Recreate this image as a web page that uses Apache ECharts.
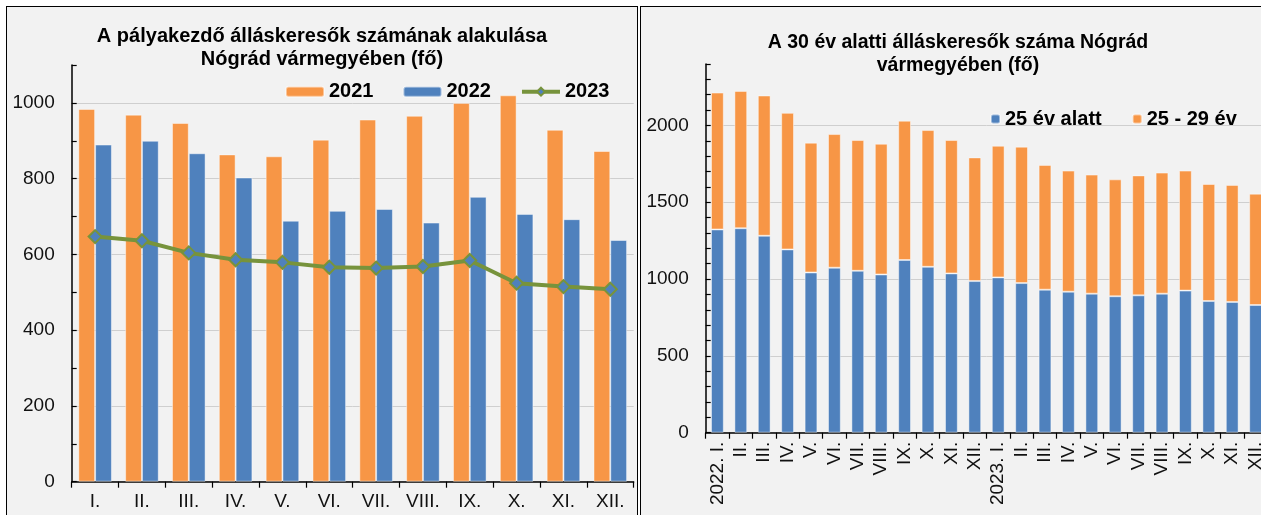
<!DOCTYPE html>
<html>
<head>
<meta charset="utf-8">
<title>Pályakezdő álláskeresők - Nógrád</title>
<script src="https://cdn.jsdelivr.net/npm/echarts@6/dist/echarts.min.js"></script>
<style>
html, body { margin: 0; padding: 0; background: #fff; overflow: hidden; width: 1261px; height: 515px; }
.panel { position: absolute; top: 6px; height: 530px; border: 1px solid #000; background: #f2f2f2; box-sizing: border-box; }
#p1 { left: 6px; width: 632px; }
#p2 { left: 640px; width: 636px; }
.chart { position: absolute; left: 0; top: 0; right: 0; bottom: 0; }
</style>
</head>
<body>
<div class="panel" id="p1"><div class="chart" id="chart1"></div></div>
<div class="panel" id="p2"><div class="chart" id="chart2"></div></div>
<script>
/* bal oldali diagram: pályakezdők havonta */
var honapok = ['I.', 'II.', 'III.', 'IV.', 'V.', 'VI.', 'VII.', 'VIII.', 'IX.', 'X.', 'XI.', 'XII.'];
var ev2021 = [984, 969, 947, 864, 859, 903, 956, 966, 1000, 1020, 929, 873];
var ev2022 = [890, 900, 867, 803, 689, 715, 720, 684, 752, 707, 693, 638];
var ev2023 = [647, 636, 604, 586, 579, 566, 564, 568, 584, 524, 515, 508];

/* jobb oldali diagram: 30 év alattiak */
var idoszakok = ['2022. I.', 'II.', 'III.', 'IV.', 'V.', 'VI.', 'VII.', 'VIII.', 'IX.', 'X.', 'XI.', 'XII.',
                 '2023. I.', 'II.', 'III.', 'IV.', 'V.', 'VI.', 'VII.', 'VIII.', 'IX.', 'X.', 'XI.', 'XII.'];
var alatt25 = [1323, 1331, 1282, 1193, 1043, 1074, 1054, 1030, 1124, 1080, 1037, 987,
               1011, 974, 931, 918, 905, 888, 894, 905, 925, 857, 851, 831];
var kozott25_29 = [891, 894, 913, 889, 845, 870, 851, 851, 907, 890, 868, 805,
                   857, 888, 812, 788, 775, 761, 781, 788, 781, 762, 762, 725];

var NARANCS = '#f79646';
var KEK = '#4f81bd';
var ZOLD = '#77933c';
var BETU = "'Liberation Sans', Arial, sans-serif";

var chart1 = echarts.init(document.getElementById('chart1'));
var chart2 = echarts.init(document.getElementById('chart2'));

/**
 * közös érték tengely beállítás
 */
function ertekTengely(max, cimkeLepes){
	var vonalSzinek = [];
	for (var i = 0; i < cimkeLepes / 100; i++) {
		vonalSzinek.push(i === 0 ? '#cfcfcf' : 'rgba(0,0,0,0)');
	}
	return {
		type: 'value',
		min: 0,
		max: max,
		interval: 100,
		axisLine: { show: true, lineStyle: { color: '#000', width: 1.5 } },
		axisTick: { show: true, inside: true, length: 5, lineStyle: { color: '#000', width: 1.2 } },
		axisLabel: {
			margin: 17,
			fontFamily: BETU,
			fontSize: 19,
			color: '#111',
			formatter: function (v) { return v % cimkeLepes === 0 ? String(v) : ''; }
		},
		splitLine: { show: true, lineStyle: { color: vonalSzinek, width: 1 } }
	};
}

function drawChart1(){
	var option = {
		animation: false,
		title: {
			text: 'A pályakezdő álláskeresők számának alakulása\nNógrád vármegyében (fő)',
			left: 'center',
			top: 18,
			padding: 0,
			textStyle: { fontFamily: BETU, fontSize: 20, fontWeight: 'bold', color: '#000', lineHeight: 23 }
		},
		legend: {
			left: 278,
			top: 73.7,
			padding: 0,
			itemGap: 29,
			itemWidth: 38,
			itemHeight: 10,
			textStyle: { fontFamily: BETU, fontSize: 20, fontWeight: 'bold', color: '#000', lineHeight: 22 },
			data: [
				'2021',
				'2022',
				{ name: '2023', lineStyle: { width: 4, color: ZOLD }, itemStyle: { color: KEK, borderColor: ZOLD, borderWidth: 2 } }
			]
		},
		grid: { left: 64.7, top: 58, width: 562, height: 416.7 },
		xAxis: {
			type: 'category',
			data: honapok,
			axisLine: { lineStyle: { color: '#000', width: 1.5 } },
			axisTick: { show: true, length: 6, interval: 0, lineStyle: { color: '#000', width: 1.2 } },
			axisLabel: { interval: 0, margin: 11, fontFamily: BETU, fontSize: 19, color: '#111' }
		},
		yAxis: ertekTengely(1100, 200),
		series: [
			{
				name: '2021',
				type: 'bar',
				data: ev2021,
				barWidth: 16.8,
				barGap: '0%',
				itemStyle: { color: NARANCS, borderColor: 'rgba(255,255,255,0.45)', borderWidth: 1 }
			},
			{
				name: '2022',
				type: 'bar',
				data: ev2022,
				barWidth: 16.8,
				barGap: '0%',
				itemStyle: { color: KEK, borderColor: 'rgba(255,255,255,0.45)', borderWidth: 1 }
			},
			{
				name: '2023',
				type: 'line',
				data: ev2023,
				symbol: 'diamond',
				symbolSize: 13,
				lineStyle: { color: ZOLD, width: 4 },
				itemStyle: { color: KEK, borderColor: ZOLD, borderWidth: 2 },
				z: 5
			}
		]
	};
	chart1.setOption(option);
}

function drawChart2(){
	var option = {
		animation: false,
		title: {
			text: 'A 30 év alatti álláskeresők száma Nógrád\nvármegyében (fő)',
			left: 'center',
			top: 24.5,
			padding: 0,
			textStyle: { fontFamily: BETU, fontSize: 19.5, fontWeight: 'bold', color: '#000', lineHeight: 23 }
		},
		legend: {
			left: 349,
			top: 101,
			padding: 0,
			itemGap: 30,
			itemWidth: 9,
			itemHeight: 9,
			textStyle: { fontFamily: BETU, fontSize: 20, fontWeight: 'bold', color: '#000', lineHeight: 22 },
			data: ['25 év alatt', '25 - 29 év']
		},
		grid: { left: 64.7, top: 57, width: 561.6, height: 368.7 },
		xAxis: {
			type: 'category',
			data: idoszakok,
			axisLine: { lineStyle: { color: '#000', width: 1.5 } },
			axisTick: { show: true, length: 6, interval: 0, lineStyle: { color: '#000', width: 1.2 } },
			axisLabel: { interval: 0, rotate: 90, margin: 9, fontFamily: BETU, fontSize: 19, color: '#111' }
		},
		yAxis: ertekTengely(2400, 500),
		series: [
			{
				name: '25 év alatt',
				type: 'bar',
				stack: 'ossz',
				data: alatt25,
				barWidth: 12.8,
				itemStyle: { color: KEK, borderColor: 'rgba(255,255,255,0.45)', borderWidth: 1 }
			},
			{
				name: '25 - 29 év',
				type: 'bar',
				stack: 'ossz',
				data: kozott25_29,
				barWidth: 12.8,
				itemStyle: { color: NARANCS, borderColor: 'rgba(255,255,255,0.45)', borderWidth: 1 }
			}
		]
	};
	chart2.setOption(option);
}

drawChart1();
drawChart2();
</script>
</body>
</html>
